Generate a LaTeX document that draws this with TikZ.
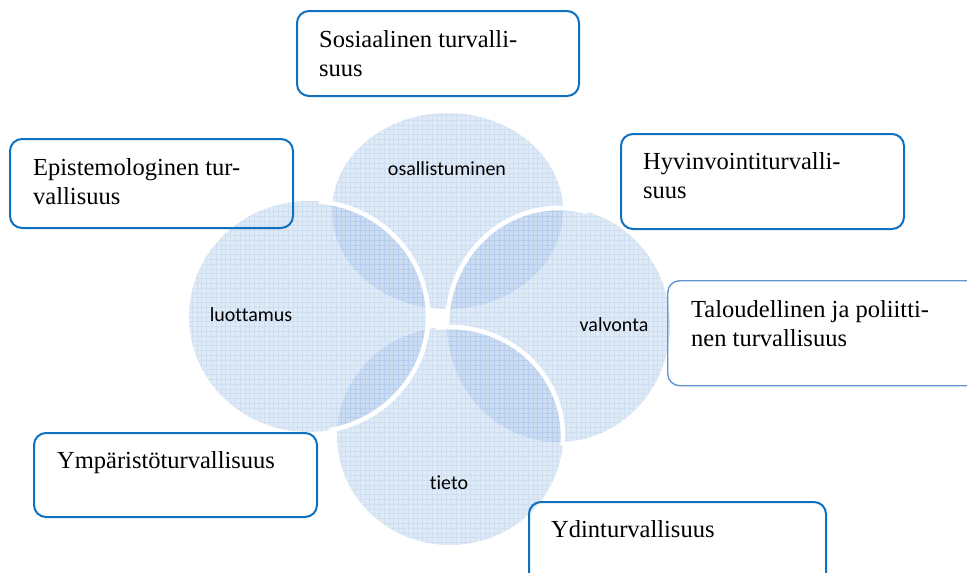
\documentclass[tikz,border=0pt]{standalone}
\usepackage{fontspec}
\setmainfont{Liberation Serif}
\newfontfamily\labelfont[Ligatures=NoCommon]{Carlito}

\definecolor{boxblue}{RGB}{16,112,192}
\definecolor{talblue}{RGB}{96,150,208}
\definecolor{bubblefill}{RGB}{176,202,236}
\definecolor{gridblue}{RGB}{140,178,228}

\tikzset{
  box/.style={draw=boxblue, line width=2pt, rounded corners=12pt, inner sep=0pt,
    anchor=north west},
  boxtext/.style={anchor=north west, inner sep=0pt, align=left,
    font=\fontsize{24.5}{29}\selectfont},
  bubblelabel/.style={inner sep=0pt, font=\labelfont\fontsize{20}{24}\selectfont},
  bubble/.style={fill=bubblefill, fill opacity=0.4},
  gap/.style={draw=white, line width=4.5pt},
}

% centre x, centre y, x radius, y radius
\newcommand{\drawbubble}[4]{%
  \fill[bubble] (#1,#2) ellipse [x radius=#3, y radius=#4];
  \begin{scope}
    \clip (#1,#2) ellipse [x radius=#3, y radius=#4];
    \draw[gridblue, line width=0.45pt, opacity=0.2, step=4.8]
      ({#1-#3},{#2-#4}) grid ({#1+#3},{#2+#4});
  \end{scope}}

\begin{document}
\begin{tikzpicture}[x=1pt, y=1pt]
  \useasboundingbox (0,0) rectangle (967,-573);
  \clip (0,0) rectangle (967,-573);

  % bubbles, back to front
  \drawbubble{447.5}{-211}{115.5}{98}
  \drawbubble{558.5}{-325}{111.5}{117}
  \draw[gap] (558.5,-325) ++(180:111.5 and 117)
    arc [start angle=180, end angle=75, x radius=111.5, y radius=117];
  \drawbubble{450}{-436}{113}{109}
  \draw[gap] (450,-436) ++(97:113 and 109)
    arc [start angle=97, end angle=-5, x radius=113, y radius=109];
  \drawbubble{308.5}{-316.5}{119.5}{115.5}
  \draw[gap] (308.5,-316.5) ++(85:119.5 and 115.5)
    arc [start angle=85, end angle=-80, x radius=119.5, y radius=115.5];

  \node[bubblelabel] (osallistuminen) at (447,-169) {osallistuminen};
  \node[bubblelabel] (luottamus) at (251,-315) {luottamus};
  \node[bubblelabel] (valvonta) at (614,-325) {valvonta};
  \node[bubblelabel] (tieto) at (449,-483) {tieto};

  % boxes
  \node[box, minimum width=282pt, minimum height=85pt] (sosBox) at (296,-10) {};
  \node[boxtext] (sosText) at ([xshift=23pt, yshift=-20pt]sosBox.north west)
    {Sosiaalinen turvalli-\\suus};

  \node[box, minimum width=283pt, minimum height=89pt] (epiBox) at (9,-138) {};
  \node[boxtext] (epiText) at ([xshift=24pt, yshift=-20pt]epiBox.north west)
    {Epistemologinen tur-\\vallisuus};

  \node[box, minimum width=283pt, minimum height=95pt] (hyvBox) at (620,-133) {};
  \node[boxtext] (hyvText) at ([xshift=23pt, yshift=-19.5pt]hyvBox.north west)
    {Hyvinvointiturvalli-\\suus};

  \node[box, draw=talblue, line width=1.4pt, minimum width=320pt, minimum height=105pt]
    (talBox) at (667,-280) {};
  \node[boxtext] (talText) at ([xshift=24pt, yshift=-20pt]talBox.north west)
    {Taloudellinen ja poliitti-\\nen turvallisuus};

  \node[box, minimum width=283pt, minimum height=84pt] (ympBox) at (33,-432) {};
  \node[boxtext] (ympText) at ([xshift=24pt, yshift=-19.5pt]ympBox.north west)
    {Ympäristöturvallisuus};

  \node[box, minimum width=297pt, minimum height=100pt] (ydiBox) at (528,-501) {};
  \node[boxtext] (ydiText) at ([xshift=23pt, yshift=-19.5pt]ydiBox.north west)
    {Ydinturvallisuus};
\end{tikzpicture}
\end{document}
